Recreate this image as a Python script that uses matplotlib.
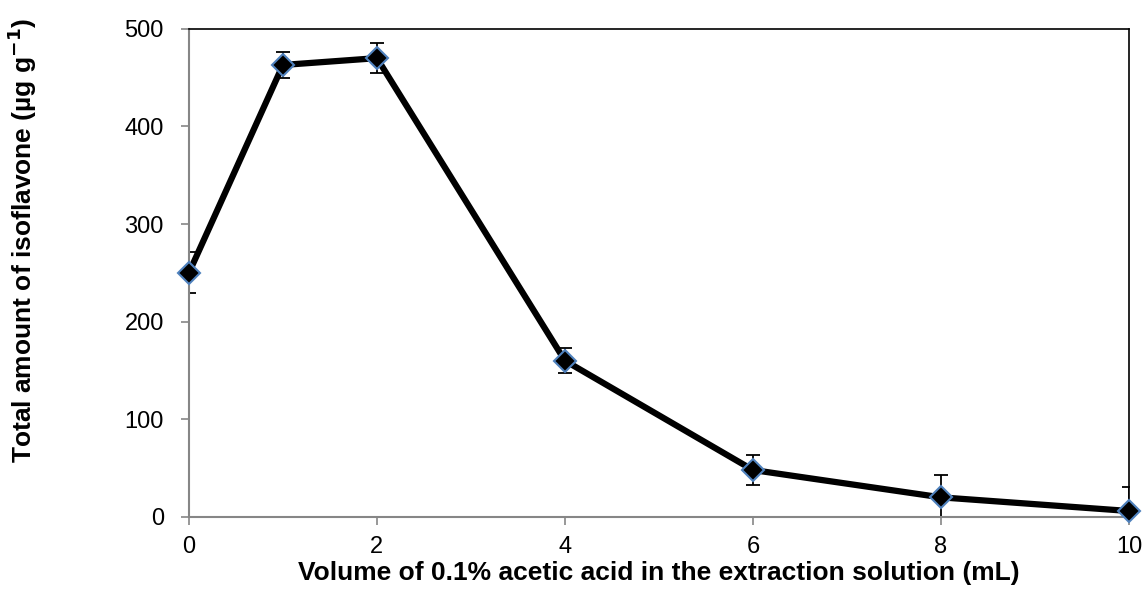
import matplotlib
matplotlib.use("Agg")
import matplotlib.pyplot as plt

plt.rcParams['font.family'] = ['Liberation Sans', 'DejaVu Sans']

# acetic acid volume (mL) vs total isoflavone (ug/g)
volume = [0, 1, 2, 4, 6, 8, 10]
isoflavone = [250, 463, 470, 160, 48, 20, 6]
error = [21, 13, 15, 13, 15, 23, 25]

fig = plt.figure(figsize=(11.45, 6.01), dpi=100)
ax = fig.add_axes([0.165, 0.14, 0.821, 0.812])

ax.errorbar(volume, isoflavone, yerr=error, fmt='none', ecolor='black',
            elinewidth=1.3, capsize=5, capthick=1.3, zorder=2)
ax.plot(volume, isoflavone, color='black', lw=4.5, zorder=3,
        marker='D', markersize=11, markerfacecolor='black',
        markeredgecolor='#4F81BD', markeredgewidth=1.5, clip_on=False)

ax.set_xlim(0, 10)
ax.set_ylim(0, 500)
ax.set_xticks([0, 2, 4, 6, 8, 10])
ax.set_yticks([0, 100, 200, 300, 400, 500])

for side in ['top', 'right']:
    ax.spines[side].set_color('black')
    ax.spines[side].set_linewidth(1.2)
for side in ['left', 'bottom']:
    ax.spines[side].set_color('#868686')
    ax.spines[side].set_linewidth(1.5)

ax.tick_params(axis='both', colors='#868686', labelcolor='black',
               labelsize=17, length=6, width=1.2, direction='out')
ax.tick_params(axis='x', pad=8)
ax.tick_params(axis='y', pad=12)

ax.set_xlabel('Volume of 0.1% acetic acid in the extraction solution (mL)',
              fontsize=19, fontweight='bold')
ax.set_ylabel(r'Total amount of isoflavone (µg g$^{\mathbf{-1}}$)',
              fontsize=19, fontweight='bold')
ax.xaxis.set_label_coords(0.5, -0.09)
ax.yaxis.set_label_coords(-0.16, 0.566)

fig.savefig('out.png', dpi=100)
